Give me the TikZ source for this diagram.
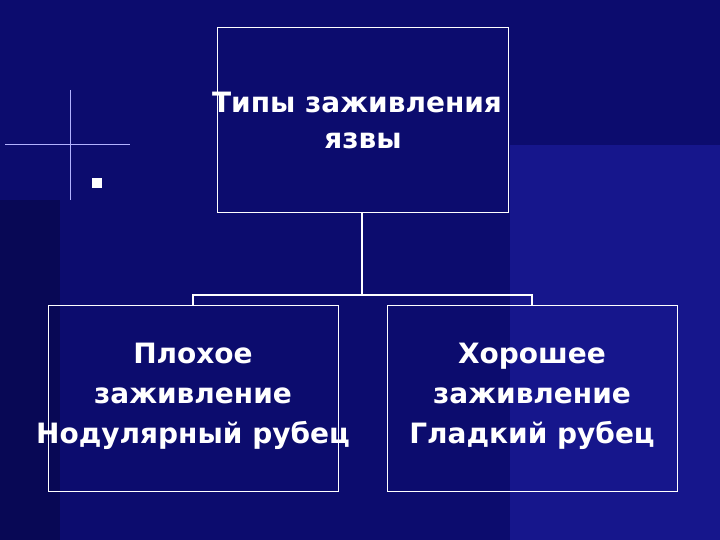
\documentclass[tikz,border=0pt]{standalone}
\usepackage{fontspec}
\setmainfont{DejaVu Sans}
\begin{document}
\begin{tikzpicture}[x=1pt,y=-1pt,
  box/.style={draw=white,line width=0.8pt,anchor=north west},
  lbl/.style={text=white,font=\bfseries\fontsize{28}{40}\selectfont,align=center,inner sep=0pt},
  conn/.style={draw=white,line width=1.5pt}]
\useasboundingbox (0,0) rectangle (720,540);
\fill[color={rgb,255:red,12;green,12;blue,110}] (0,0) rectangle (720,540);
\fill[color={rgb,255:red,22;green,22;blue,140}] (510,145) rectangle (720,540);
\fill[color={rgb,255:red,8;green,8;blue,85}] (0,200) rectangle (60,540);
% flare
\draw[white!70!blue,line width=1pt] (70,90) -- (70,200);
\draw[white!70!blue,line width=1pt] (5,145) -- (130,145);
\fill[white] (92,178) rectangle (102,188);
\node[box,minimum width=291,minimum height=185] (top) at (217,27) {};
\node[box,minimum width=290,minimum height=186] (L) at (48,305) {};
\node[box,minimum width=290,minimum height=186] (R) at (387,305) {};
\node[lbl] (t1) at (357,102) {Типы заживления};
\node[lbl] (t2) at (363,141) {язвы};
\node[lbl] (lt) at (193,396) {Плохое\\заживление\\Нодулярный рубец};
\node[lbl] (rt) at (532,396) {Хорошее\\заживление\\Гладкий рубец};
\coordinate (m) at (362,295);
\draw[conn] (top.south -| m) -- (m);
\draw[conn] (193,305) -- (193,295) -- (532,295) -- (532,305);
\end{tikzpicture}
\end{document}
